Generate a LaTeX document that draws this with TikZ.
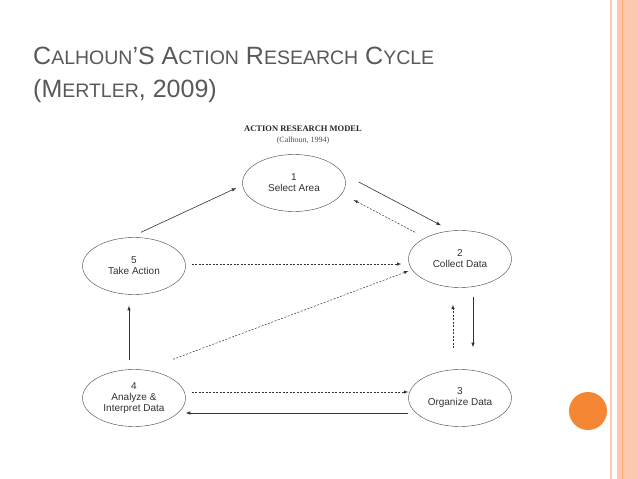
\documentclass[tikz,border=0pt]{standalone}
\usepackage{fontspec}
\setmainfont{Liberation Sans}
\newfontfamily\serifcap{Liberation Serif}
\usetikzlibrary{shapes.geometric}
\definecolor{slidegray}{HTML}{595959}
\definecolor{stripe}{HTML}{FCC8B0}
\definecolor{dotorange}{HTML}{F58634}
\newcommand{\bigsc}[2]{{\fontsize{25}{28}\selectfont #1}{\fontsize{19.5}{22}\selectfont #2}}
\tikzset{
  stage/.style={ellipse, draw=black!75, minimum width=103pt, minimum height=57pt,
    inner sep=0pt, align=center, font=\fontsize{10}{11}\selectfont, text=black!80},
  flow/.style={-latex, black!80, line width=0.6pt},
  back/.style={-latex, black!80, line width=0.5pt, dashed, dash pattern=on 2pt off 1.5pt}
}
\begin{document}
\begin{tikzpicture}[x=1pt,y=-1pt]
  \useasboundingbox (0,0) rectangle (638,479);
  \fill[white] (0,0) rectangle (638,479);
  % right hand stripes
  \fill[stripe] (610,0) rectangle (612,479);
  \fill[stripe] (617,0) rectangle (638,479);
  \draw[dotorange!70, line width=0.6pt] (622,0) -- (622,479);
  \fill[dotorange] (588,411) circle (19);

  % slide title
  \node[anchor=base west, text=slidegray, inner sep=0pt] (title) at (33,64)
    {\bigsc{C}{ALHOUN}\bigsc{'S\ A}{CTION}\bigsc{\ R}{ESEARCH}\bigsc{\ C}{YCLE}};
  \node[anchor=base west, text=slidegray, inner sep=0pt] (source) at (33,97)
    {\bigsc{(M}{ERTLER}\bigsc{, 2009)}{}};

  % model heading
  \node[font=\serifcap\bfseries\fontsize{8.5}{9}\selectfont, text=black!85] (model) at (303,129) {ACTION RESEARCH MODEL};
  \node[font=\serifcap\fontsize{8}{9}\selectfont, text=black!70] (ref) at (303,141) {(Calhoun, 1994)};

  % stages
  \node[stage] (sel) at (294,183) {1\\Select Area};
  \node[stage] (col) at (460,259) {2\\Collect Data};
  \node[stage] (org) at (460,398) {3\\Organize Data};
  \node[stage] (ana) at (134,398) {4\\Analyze \&\\Interpret Data};
  \node[stage] (take) at (134,266) {5\\Take Action};

  % cycle
  \draw[flow] ([xshift=7pt,yshift=5pt]take.north) -- ([xshift=-6pt,yshift=-5pt]sel.west);
  \draw[flow] ([xshift=13pt,yshift=1pt]sel.east) -- ([xshift=-19pt,yshift=5pt]col.north);
  \draw[flow] ([xshift=13pt,yshift=-9pt]col.south) -- ([xshift=13pt,yshift=22pt]org.north);
  \draw[flow] ([yshift=-15pt]org.west) -- ([yshift=-15pt]ana.east);
  \draw[flow] ([xshift=-5pt,yshift=9pt]ana.north) -- ([xshift=-5pt,yshift=-11pt]take.south);

  % returns
  \draw[back] ([xshift=-45pt,yshift=-2pt]col.north) -- ([xshift=8pt,yshift=-17pt]sel.east);
  \draw[back] ([xshift=6pt,yshift=2pt]take.east) -- ([xshift=-7pt,yshift=-5pt]col.west);
  \draw[back] ([xshift=39pt,yshift=10pt]ana.north) -- ([yshift=-12pt]col.west);
  \draw[back] ([xshift=-7pt,yshift=21pt]org.north) -- ([xshift=-7pt,yshift=-17pt]col.south);
  \draw[back] ([xshift=6pt,yshift=6pt]ana.east) -- ([yshift=6pt]org.west);
\end{tikzpicture}
\end{document}
